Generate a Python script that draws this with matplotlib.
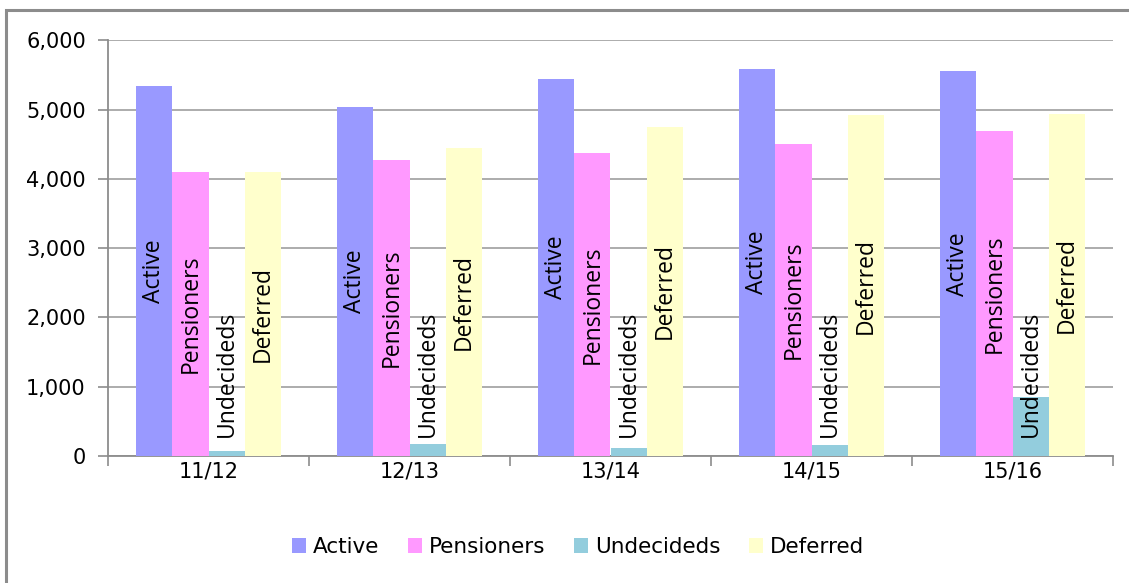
import numpy as np
import matplotlib.pyplot as plt
from matplotlib.patches import Rectangle

# Data
years = ['11/12', '12/13', '13/14', '14/15', '15/16']
active = [5340, 5040, 5440, 5585, 5550]
pensioners = [4095, 4270, 4378, 4507, 4696]
undecideds = [72, 168, 110, 163, 856]
deferred = [4095, 4450, 4750, 4918, 4942]

series = ['Active', 'Pensioners', 'Undecideds', 'Deferred']
colors = ['#9999FF', '#FF99FF', '#93CDDD', '#FFFFCC']

W, H = 1129, 583
fig = plt.figure(figsize=(W / 100, H / 100), dpi=100)
ax = fig.add_axes([108 / W, 1 - 456 / H, (1113 - 108) / W, (456 - 40.3) / H])

# outer chart frame (cut off at right/bottom like the source)
fig.patches.append(Rectangle((6 / W, -0.05), 1.2, 1 - 10 / H + 0.05,
                             transform=fig.transFigure, fill=False,
                             edgecolor='#8c8c8c', linewidth=2.2, zorder=0))

x = np.arange(len(years))
bw = 0.18
offsets = (np.arange(4) - 1.5) * bw
values = [active, pensioners, undecideds, deferred]
label_font = ['Open Sans', 'DejaVu Sans']

for i, (name, vals, col) in enumerate(zip(series, values, colors)):
    bars = ax.bar(x + offsets[i], vals, width=bw, color=col, label=name,
                  linewidth=0, zorder=3)
    for b, v in zip(bars, vals):
        cx = b.get_x() + b.get_width() / 2
        if name == 'Undecideds':
            ax.text(cx, 270, name, rotation=90, ha='center', va='bottom',
                    fontsize=16.5, family=label_font, zorder=4)
        else:
            ax.text(cx, v / 2, name, rotation=90, ha='center', va='center',
                    fontsize=16.5, family=label_font, zorder=4)

ax.set_xlim(-0.5, len(years) - 0.5)
ax.set_ylim(0, 6000)
ax.set_yticks(np.arange(0, 6001, 1000))
ax.set_yticklabels([f'{v:,}' for v in range(0, 6001, 1000)])
ax.yaxis.grid(True, color='#a6a6a6', linewidth=1.3, zorder=0)
ax.set_axisbelow(True)

# category ticks at group boundaries, labels centred
ax.set_xticks(np.arange(-0.5, len(years), 1.0))
ax.set_xticklabels([])
ax.set_xticks(x, minor=True)
ax.set_xticklabels(years, minor=True)
ax.tick_params(axis='x', which='major', length=7, width=1.2, color='#8c8c8c',
               direction='out')
ax.tick_params(axis='x', which='minor', length=0, pad=4, labelsize=15)
ax.tick_params(axis='y', length=7, width=1.2, color='#8c8c8c', labelsize=15,
               pad=9)

for s in ['top', 'right']:
    ax.spines[s].set_visible(False)
for s in ['left', 'bottom']:
    ax.spines[s].set_color('#8c8c8c')
    ax.spines[s].set_linewidth(1.3)

leg = fig.legend(loc='center', bbox_to_anchor=(0.512, 1 - 547 / H), ncol=4,
                 frameon=False, handlelength=0.65, handleheight=0.65,
                 handletextpad=0.35, columnspacing=1.3,
                 prop={'family': 'DejaVu Sans', 'size': 15.5})

fig.savefig('out.png', dpi=100)
